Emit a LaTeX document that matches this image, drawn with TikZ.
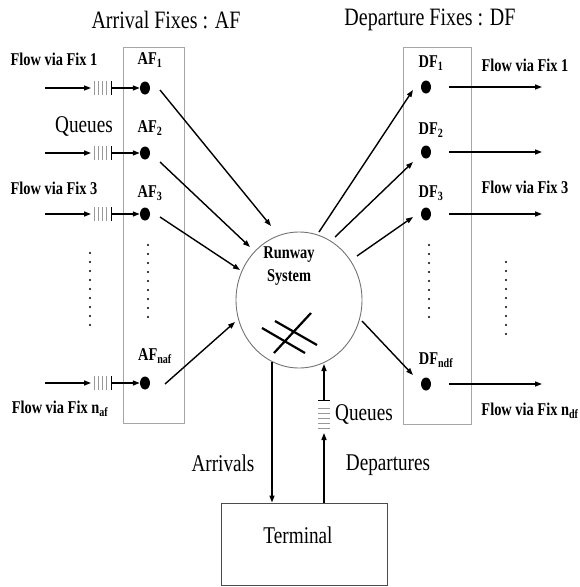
\documentclass[tikz,border=0pt]{standalone}
\usepackage{fontspec}
\setmainfont{Liberation Serif}[FakeStretch=0.8]
\usetikzlibrary{arrows.meta,shapes.geometric}
\newcommand\flowfont{\fontsize{18}{23}\selectfont\bfseries}
\newcommand\plainfont{\fontsize{24}{26}\selectfont}
\newcommand\headfont{\fontsize{25}{27}\selectfont}

\begin{document}
\begin{tikzpicture}[x=1pt,y=-1pt,
  flow/.style={font=\flowfont, inner sep=0pt},
  plain/.style={font=\plainfont, inner sep=0pt},
  head/.style={font=\headfont, inner sep=0pt},
  fixbox/.style={draw=black!35, line width=0.8pt, inner sep=0pt},
  fixdot/.style={ellipse, fill=black, minimum width=10pt, minimum height=13pt, inner sep=0pt},
  arr/.style={line width=1.4pt, -{Triangle[length=7pt,width=5pt]}},
  bararr/.style={line width=1.4pt, {Bar[width=14pt]}-{Triangle[length=7pt,width=5pt]}},
  queuebar/.style={draw=black!40, line width=0.9pt},
  rwline/.style={line width=2.2pt},
]
\useasboundingbox (0,0) rectangle (580,587);

% headings
\node[head] (hAF) at (166,20) {Arrival Fixes : AF};
\node[head] (hDF) at (430,20) {Departure Fixes : DF};

% fix boxes
\node[fixbox, draw, minimum width=61pt, minimum height=376pt] (afbox) at (153.5,235) {};
\node[fixbox, draw, minimum width=68pt, minimum height=377pt] (dfbox) at (437,235.5) {};

% runway system
\node[ellipse, draw=black!55, line width=0.9pt, minimum width=126pt, minimum height=136pt, inner sep=0pt] (rw) at (299,300) {};
\node[flow, align=center] (rwtext) at (289,266) {Runway\\System};
\draw[rwline] (275,321) -- (317,345);
\draw[rwline] (262,328) -- (305,353);
\draw[rwline] (311,313) -- (274,353);

% arrival fixes
\foreach \n/\y in {1/88,2/153,3/214,4/383}{
  \node[fixdot] (af\n) at (145,\y) {};
  \coordinate (fin\n) at (45,\y);
  \coordinate (qin\n) at (91,\y);
  \coordinate (qout\n) at (111,\y);
  \foreach \x in {94,98,102,106}
    \draw[queuebar] (\x,\y-7) -- (\x,\y+7);
  \draw[arr] (fin\n) -- (qin\n);
  \draw[bararr] (qout\n) -- (af\n);
}
\node[flow] (laf1) at (150,60) {AF\textsubscript{1}};
\node[flow] (laf2) at (150,128) {AF\textsubscript{2}};
\node[flow] (laf3) at (150,193) {AF\textsubscript{3}};
\node[flow] (laf4) at (155,356) {AF\textsubscript{naf}};

\node[flow] (fl1) at (54,59) {Flow via Fix 1};
\node[plain] (lq) at (84,126) {Queues};
\node[flow] (fl3) at (54,188) {Flow via Fix 3};
\node[flow] (fl4) at (60,409) {Flow via Fix n\textsubscript{af}};

% arrival connectors to the runway system
\coordinate (as1) at (160,90);   \coordinate (ae1) at (271,226);
\coordinate (as2) at (160,162);  \coordinate (ae2) at (250,247);
\coordinate (as3) at (160,217);  \coordinate (ae3) at (240,270);
\coordinate (as4) at (165,384);  \coordinate (ae4) at (235,322);
\foreach \n in {1,2,3,4}
  \draw[arr] (as\n) -- (ae\n);

% departure fixes
\foreach \n/\y in {1/87,2/152,3/214,4/384}{
  \node[fixdot] (df\n) at (426,\y) {};
  \coordinate (fout\n) at (542,\y);
  \coordinate (dfs\n) at (449,\y);
  \draw[arr] (dfs\n) -- (fout\n);
}
\node[flow] (ldf1) at (431,63) {DF\textsubscript{1}};
\node[flow] (ldf2) at (431,130) {DF\textsubscript{2}};
\node[flow] (ldf3) at (431,193) {DF\textsubscript{3}};
\node[flow] (ldf4) at (436,360) {DF\textsubscript{ndf}};

\node[flow] (fr1) at (525,65) {Flow via Fix 1};
\node[flow] (fr3) at (525,187) {Flow via Fix 3};
\node[flow] (fr4) at (530,411) {Flow via Fix n\textsubscript{df}};

% departure connectors from the runway system
\coordinate (ds1) at (319,232);  \coordinate (de1) at (413,90);
\coordinate (ds2) at (335,237);  \coordinate (de2) at (413,162);
\coordinate (ds3) at (357,256);  \coordinate (de3) at (413,217);
\coordinate (ds4) at (362,321);  \coordinate (de4) at (413,375);
\foreach \n in {1,2,3,4}
  \draw[arr] (ds\n) -- (de\n);

% ellipsis dots
\foreach \i in {0,...,8}{
  \fill (90,253+9*\i) circle (1.2pt);
  \fill (148,245+9*\i) circle (1.2pt);
  \fill (429,245+9*\i) circle (1.2pt);
  \fill (506,262+9*\i) circle (1.2pt);
}

% terminal
\node[draw=black!70, line width=0.9pt, minimum width=166pt, minimum height=82pt, inner sep=0pt] (term) at (304,544) {};
\node[plain] (termtext) at (298,535) {Terminal};

% arrivals to terminal
\coordinate (arrtop) at (272,362);
\draw[arr] (arrtop) -- (term.north -| arrtop);
\node[plain] (larr) at (223,463) {Arrivals};

% departures from terminal, via queue
\coordinate (dqlow) at (324,433);
\coordinate (dqtop) at (324,401);
\coordinate (dqend) at (324,364);
\draw[arr] (term.north -| dqlow) -- (dqlow);
\foreach \y in {408,413,418,423,428}
  \draw[queuebar] (318,\y) -- (330,\y);
\draw[line width=1.4pt, {Bar[width=12pt]}-{Triangle[length=7pt,width=5pt]}] (dqtop) -- (dqend);
\node[plain] (ldq) at (364,414) {Queues};
\node[plain] (ldep) at (388,465) {Departures};
\end{tikzpicture}
\end{document}
